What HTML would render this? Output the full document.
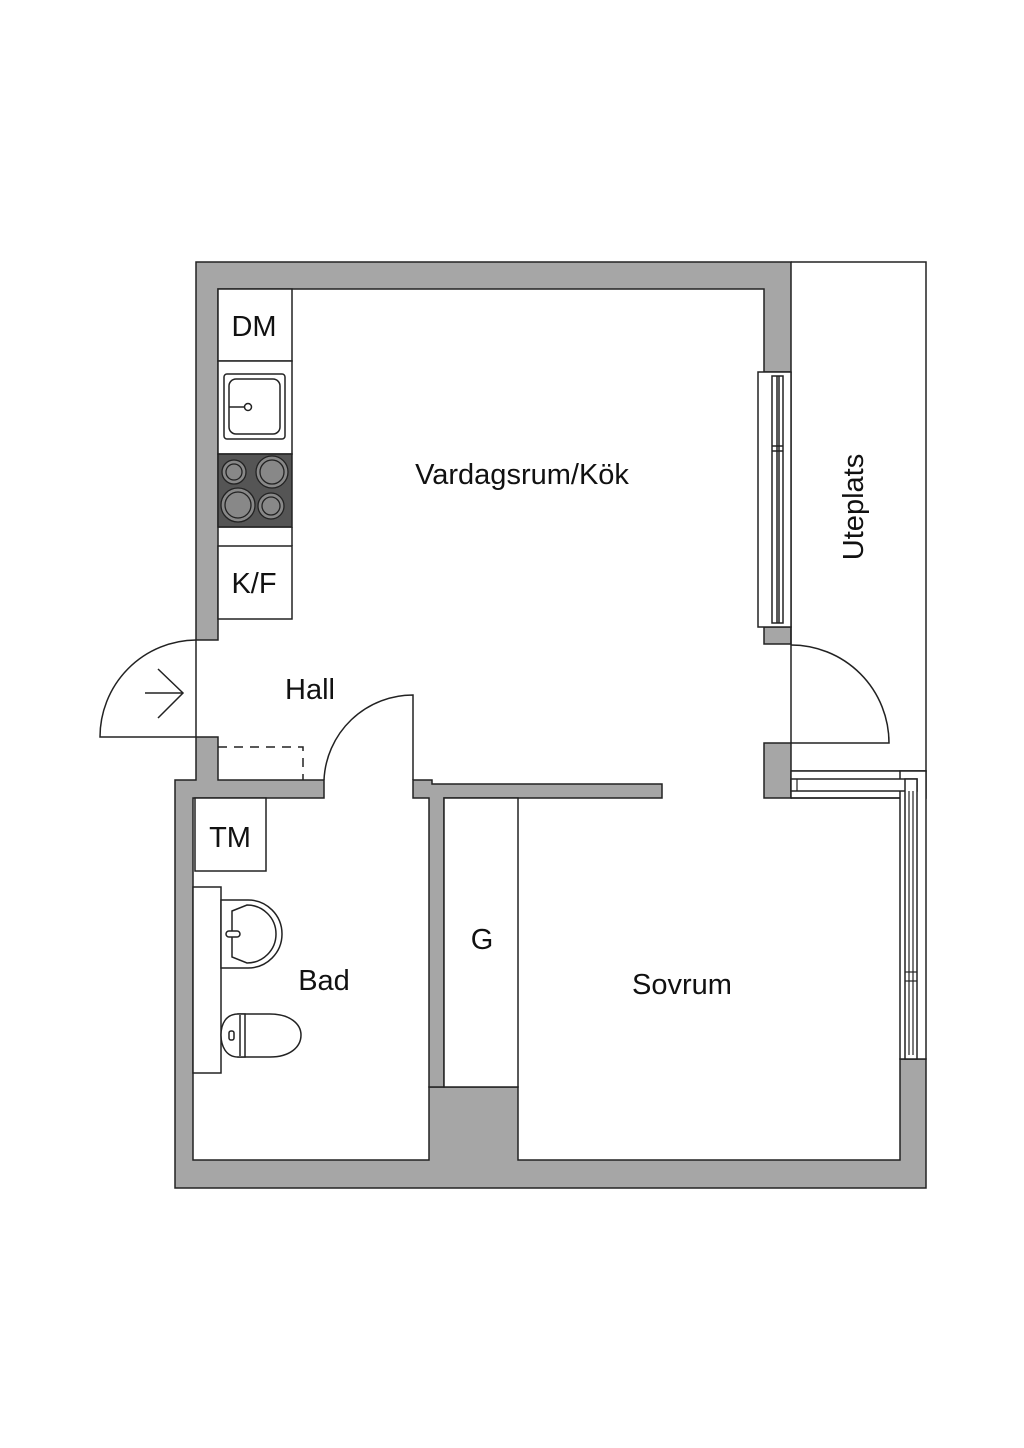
<!DOCTYPE html>
<html><head><meta charset="utf-8"><style>
html,body{margin:0;padding:0;background:#fff}
svg{display:block}
text{font-family:"Liberation Sans",sans-serif;fill:#111}
</style></head><body>
<svg width="1024" height="1448" viewBox="0 0 1024 1448" xmlns="http://www.w3.org/2000/svg">
<g fill="#a6a6a6" stroke="#222" stroke-width="1.5">
<polygon points="196,262 791,262 791,372 764,372 764,289 218,289 218,640 196,640"/>
<rect x="764" y="627" width="27" height="17"/>
<rect x="764" y="743" width="27" height="55"/>
<polygon points="196,737 218,737 218,780 324,780 324,798 193,798 193,1160 429,1160 429,1087 518,1087 518,1160 900,1160 900,1059 926,1059 926,1188 175,1188 175,780 196,780"/>
<polygon points="413,780 432,780 432,784 662,784 662,798 444,798 444,1087 429,1087 429,798 413,798"/>
</g>
<g fill="none" stroke="#222" stroke-width="1.5">
<polyline points="791,262 926,262 926,771 791,771"/>
<line x1="791" y1="372" x2="791" y2="743"/>
<rect x="758" y="372" width="33" height="255" fill="#fff"/>
<rect x="772" y="376" width="11" height="247"/>
<line x1="777" y1="376" x2="777" y2="623"/>
<line x1="779" y1="376" x2="779" y2="623"/>
<line x1="772" y1="446" x2="783" y2="446"/><line x1="772" y1="451" x2="783" y2="451"/>
<path d="M791,645 A98,98 0 0 1 889,743 L791,743"/>
<line x1="196" y1="640" x2="196" y2="737"/>
<path d="M196,640 A97,97 0 0 0 100,737 L196,737"/>
<line x1="145" y1="693" x2="183" y2="693"/>
<polyline points="158,669 183,693 158,718"/>
<polyline points="218,747 303,747 303,780" stroke-dasharray="9,7"/>
<path d="M324,780 A89,89 0 0 1 413,695 L413,780"/>
<rect x="218" y="289" width="74" height="72" fill="#fff"/>
<rect x="218" y="361" width="74" height="93" fill="#fff"/>
<rect x="218" y="546" width="74" height="73" fill="#fff"/>
<line x1="218" y1="527" x2="292" y2="527"/>
<line x1="292" y1="527" x2="292" y2="546"/>
<rect x="224" y="374" width="61" height="65" rx="3"/>
<rect x="229" y="379" width="51" height="55" rx="7"/>
<line x1="229" y1="407" x2="245" y2="407"/>
<circle cx="248" cy="407" r="3.5"/>
</g>
<rect x="218" y="454" width="74" height="73" fill="#555" stroke="#222" stroke-width="1.5"/>
<g fill="#888" stroke="#222" stroke-width="1.3">
<circle cx="234" cy="472" r="12"/><circle cx="234" cy="472" r="8"/>
<circle cx="272" cy="472" r="16"/><circle cx="272" cy="472" r="12"/>
<circle cx="238" cy="505" r="17"/><circle cx="238" cy="505" r="13"/>
<circle cx="271" cy="506" r="13"/><circle cx="271" cy="506" r="9"/>
</g>
<g fill="#fff" stroke="#222" stroke-width="1.5">
<rect x="195" y="798" width="71" height="73"/>
<rect x="193" y="887" width="28" height="186"/>
<path d="M221,900 L248,900 A34,34 0 0 1 248,968 L221,968 Z"/>
<path d="M232,911 L247,905 A28,28 0 0 1 247,963 L232,957 Z"/>
<rect x="226" y="931" width="14" height="6" rx="3"/>
<path d="M238,1014 L270,1014 C290,1014 301,1024 301,1035 C301,1047 290,1057 270,1057 L238,1057 Z"/>
<path d="M238,1014 C226,1014 221,1024 221,1035 C221,1046 226,1057 238,1057 L245,1057 L245,1014 Z"/>
<line x1="240" y1="1015" x2="240" y2="1056"/>
<rect x="229" y="1031" width="5" height="9" rx="2"/>
<rect x="444" y="798" width="74" height="289"/>
<rect x="791" y="771" width="135" height="27"/>
<rect x="900" y="771" width="26" height="288"/>
<rect x="791" y="779" width="126" height="12"/>
<rect x="905" y="779" width="12" height="280"/>
</g>
<g fill="none" stroke="#222" stroke-width="1.2">
<line x1="797" y1="779" x2="797" y2="791"/>
<line x1="909" y1="791" x2="909" y2="1055"/><line x1="913" y1="791" x2="913" y2="1055"/>
<line x1="905" y1="972" x2="917" y2="972"/><line x1="905" y1="981" x2="917" y2="981"/>
</g>
<rect x="791" y="799" width="108" height="10" fill="#fff"/>
<line x1="791" y1="798" x2="900" y2="798" stroke="#222" stroke-width="1.5"/>
<g font-size="29">
<text x="522" y="484" text-anchor="middle">Vardagsrum/Kök</text>
<text x="310" y="699" text-anchor="middle">Hall</text>
<text x="324" y="990" text-anchor="middle">Bad</text>
<text x="482" y="949" text-anchor="middle">G</text>
<text x="682" y="994" text-anchor="middle">Sovrum</text>
<text x="254" y="336" text-anchor="middle">DM</text>
<text x="254" y="593" text-anchor="middle">K/F</text>
<text x="230" y="847" text-anchor="middle">TM</text>
<text transform="translate(863,507) rotate(-90)" text-anchor="middle">Uteplats</text>
</g>
</svg>
</body></html>
